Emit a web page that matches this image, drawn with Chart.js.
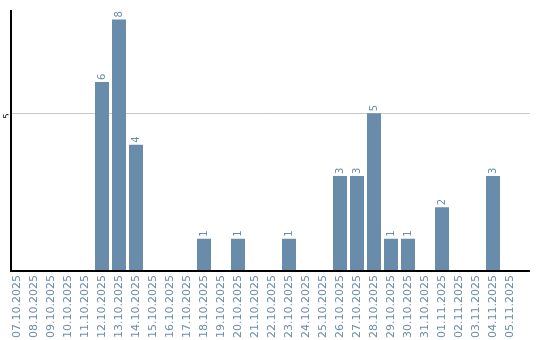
<!DOCTYPE html>
<html>
<head>
<meta charset="utf-8">
<script src="https://cdn.jsdelivr.net/npm/chart.js@4"></script>
<style>
  html, body { margin: 0; padding: 0; background: #fff; }
  #wrap { width: 540px; height: 340px; }
</style>
</head>
<body>
<div id="wrap"><canvas id="chart"></canvas></div>
<script>
const dates = [
  "07.10.2025", "08.10.2025", "09.10.2025", "10.10.2025", "11.10.2025",
  "12.10.2025", "13.10.2025", "14.10.2025", "15.10.2025", "16.10.2025",
  "17.10.2025", "18.10.2025", "19.10.2025", "20.10.2025", "21.10.2025",
  "22.10.2025", "23.10.2025", "24.10.2025", "25.10.2025", "26.10.2025",
  "27.10.2025", "28.10.2025", "29.10.2025", "30.10.2025", "31.10.2025",
  "01.11.2025", "02.11.2025", "03.11.2025", "04.11.2025", "05.11.2025",
]
const counts = [
  0, 0, 0, 0, 0,
  6, 8, 4, 0, 0,
  0, 1, 0, 1, 0,
  0, 1, 0, 0, 3,
  3, 5, 1, 1, 0,
  2, 0, 0, 3, 0,
]
const yTicks = [5]

const barColor = "rgb(106, 140, 171)"

// value labels above bars, rotated like the axis labels
const valueLabels = {
  id: "valueLabels",
  afterDatasetsDraw(chart) {
    const ctx = chart.ctx
    const meta = chart.getDatasetMeta(0)
    ctx.save()
    ctx.font = "10px 'DejaVu Sans'"
    ctx.fillStyle = barColor
    ctx.textAlign = "left"
    ctx.textBaseline = "middle"
    meta.data.forEach((bar, i) => {
      const v = counts[i]
      if (!v) return
      ctx.save()
      ctx.translate(bar.x, bar.y - 2)
      ctx.rotate(-Math.PI / 2)
      ctx.fillText(String(v), 0, 0)
      ctx.restore()
    })
    ctx.restore()
  },
}

// grid + axis lines: y axis sits a little inside the first category,
// x axis and grid run on past the last one
const axisLines = {
  id: "axisLines",
  beforeDatasetsDraw(chart) {
    const ctx = chart.ctx
    const y = chart.scales.y
    ctx.save()
    ctx.strokeStyle = "#c8c8c8"
    ctx.lineWidth = 1
    yTicks.forEach((v) => {
      const py = Math.round(y.getPixelForValue(v)) + 0.5
      ctx.beginPath()
      ctx.moveTo(11, py)
      ctx.lineTo(530, py)
      ctx.stroke()
    })
    ctx.restore()
  },
  afterDatasetsDraw(chart) {
    const ctx = chart.ctx
    const { top, bottom } = chart.chartArea
    ctx.save()
    ctx.strokeStyle = "#000"
    ctx.lineWidth = 2
    ctx.beginPath()
    ctx.moveTo(11, top)
    ctx.lineTo(11, bottom + 1)
    ctx.lineTo(530, bottom + 1)
    ctx.stroke()
    ctx.restore()
  },
}

new Chart(document.getElementById("chart"), {
  type: "bar",
  data: {
    labels: dates,
    datasets: [
      {
        data: counts,
        backgroundColor: barColor,
        barPercentage: 14 / 17,
        categoryPercentage: 1,
      },
    ],
  },
  options: {
    responsive: true,
    maintainAspectRatio: false,
    animation: false,
    layout: { padding: { top: 10, right: 21.5, left: 0, bottom: 0 } },
    plugins: {
      legend: { display: false },
      tooltip: { enabled: false },
    },
    scales: {
      x: {
        grid: { display: false, drawTicks: false },
        border: { display: false },
        ticks: {
          color: barColor,
          font: { family: "DejaVu Sans", size: 11 },
          minRotation: 90,
          maxRotation: 90,
          padding: 5,
          autoSkip: false,
        },
        afterFit(scale) { scale.height = 70 },
      },
      y: {
        min: 0,
        max: 8.3,
        afterBuildTicks(scale) {
          scale.ticks = [0].concat(yTicks).map((v) => ({ value: v }))
        },
        grid: { display: false, drawTicks: false },
        border: { display: false },
        ticks: {
          color: "#000",
          font: { family: "DejaVu Sans", size: 8 },
          minRotation: 90,
          maxRotation: 90,
          padding: 1,
          callback: (v) => (v === 0 ? "" : v),
        },
        afterFit(scale) { scale.width = 8.5 },
      },
    },
  },
  plugins: [valueLabels, axisLines],
})
</script>
</body>
</html>
